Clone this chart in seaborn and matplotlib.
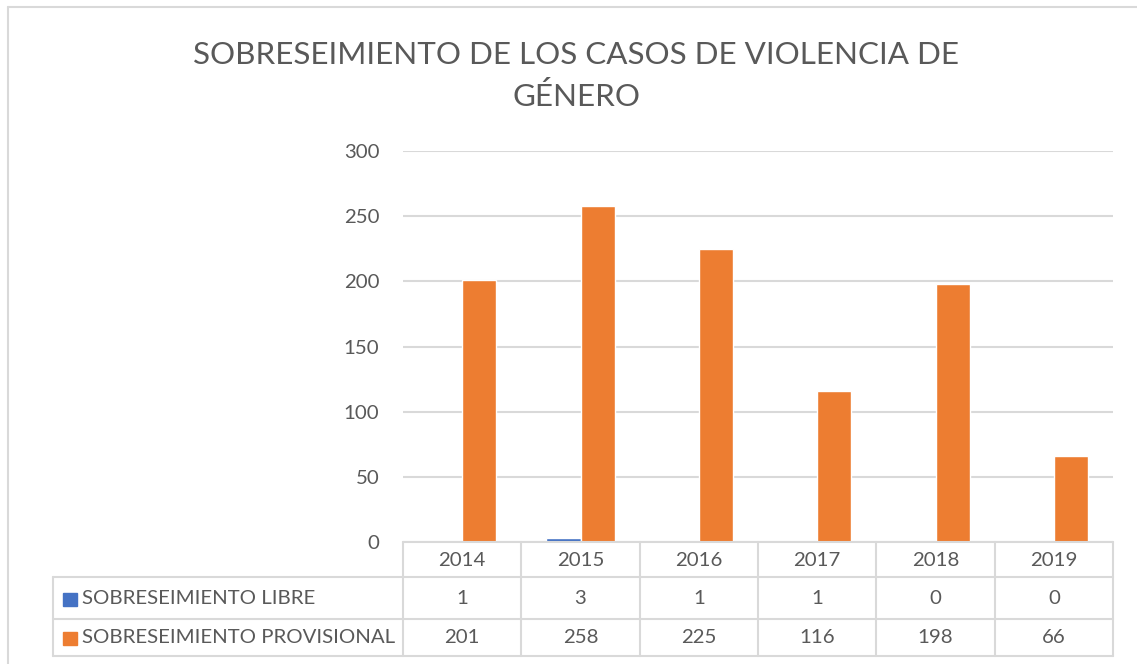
import pandas as pd
import numpy as np
import matplotlib
matplotlib.use('Agg')
import matplotlib.pyplot as plt
import matplotlib.transforms as mtransforms
import seaborn as sns

# data
years = ['2014', '2015', '2016', '2017', '2018', '2019']
libre = [1, 3, 1, 1, 0, 0]
provisional = [201, 258, 225, 116, 198, 66]
series_names = ['SOBRESEIMIENTO LIBRE', 'SOBRESEIMIENTO PROVISIONAL']
colors = ['#4472C4', '#ED7D31']
title = 'SOBRESEIMIENTO DE LOS CASOS DE VIOLENCIA DE\nGÉNERO'

df = pd.DataFrame({'year': years * 2,
                   'serie': [series_names[0]] * len(years) + [series_names[1]] * len(years),
                   'value': libre + provisional})

sns.set_style('white')
plt.rcParams['font.family'] = ['Lato', 'DejaVu Sans']
txt_color = '#595959'
grid_color = '#D9D9D9'
fs = 14.7

W, H = 1137, 664
fig = plt.figure(figsize=(W / 100, H / 100), dpi=100)

def fx(px):
    return px / W

def fy(py):
    return 1 - py / H

ax = fig.add_axes([fx(403), fy(542), fx(1113) - fx(403), fy(151) - fy(542)])
sns.barplot(data=df, x='year', y='value', hue='serie', palette=colors,
            width=0.58, saturation=1, ax=ax, legend=False)

ax.set_ylim(0, 300)
ax.set_xlim(-0.5, len(years) - 0.5)
ax.set_yticks(np.arange(0, 301, 50))
ax.yaxis.grid(True, color=grid_color, linewidth=1.5)
ax.set_axisbelow(True)
ax.set_xticks([])
ax.set_xlabel('')
ax.set_ylabel('')
ax.tick_params(axis='y', length=0, pad=17, labelsize=fs, labelcolor=txt_color)
for s in ax.spines.values():
    s.set_visible(False)

# title
fig.text(fx(576), fy(76), title, ha='center', va='center', fontsize=22.6,
         color=txt_color, linespacing=1.55)

# outer chart border
fig.add_artist(plt.Line2D([fx(8), fx(8)], [fy(7), fy(664)], color=grid_color, lw=1.5))
fig.add_artist(plt.Line2D([fx(8), fx(1137)], [fy(7), fy(7)], color=grid_color, lw=1.5))

# data table below the axis
tr = mtransforms.blended_transform_factory(ax.transData, fig.transFigure)
x_edges = np.arange(len(years) + 1) - 0.5
row_lines = [542, 577, 619, 656]
for i, py in enumerate(row_lines):
    x0 = fx(403) if i == 0 else fx(53)
    fig.add_artist(plt.Line2D([x0, fx(1113)], [fy(py), fy(py)], color=grid_color, lw=1.5))
for xe in x_edges:
    fig.add_artist(plt.Line2D([xe, xe], [fy(542), fy(656)], color=grid_color, lw=1.5,
                              transform=tr))
fig.add_artist(plt.Line2D([fx(53), fx(53)], [fy(577), fy(656)], color=grid_color, lw=1.5))

row_mid = [560.5, 598.5, 637.5]
for i, yr in enumerate(years):
    fig.text(i, fy(row_mid[0]), yr, transform=tr, ha='center', va='center',
             fontsize=fs, color=txt_color)
    fig.text(i, fy(row_mid[1]), str(libre[i]), transform=tr, ha='center', va='center',
             fontsize=fs, color=txt_color)
    fig.text(i, fy(row_mid[2]), str(provisional[i]), transform=tr, ha='center', va='center',
             fontsize=fs, color=txt_color)

for name, col, py in zip(series_names, colors, row_mid[1:]):
    fig.add_artist(plt.Rectangle((fx(63), fy(py + 7)), fx(14), 13 / H, color=col))
    fig.text(fx(82), fy(py), name, ha='left', va='center', fontsize=fs, color=txt_color)

fig.savefig('out.png', dpi=100)
